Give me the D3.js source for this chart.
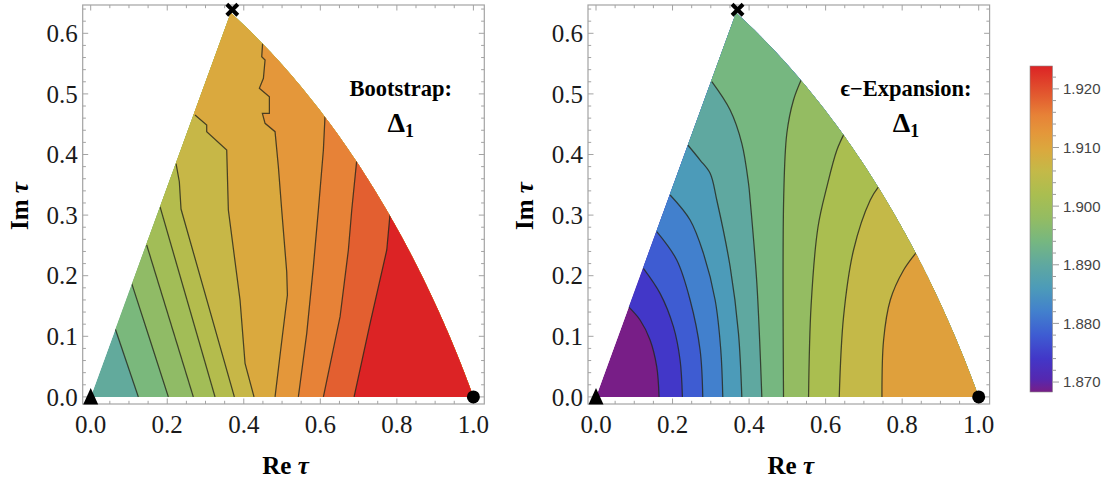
<!DOCTYPE html>
<html><head><meta charset="utf-8">
<script src="https://cdn.jsdelivr.net/npm/d3@7"></script>
<style>body{margin:0;background:#fff}svg{display:block}</style>
</head><body><svg id="c" width="1111" height="486"></svg>
<script>
// ---------- data ----------
const xTickValues = [0, 0.2, 0.4, 0.6, 0.8, 1.0];
const yTickValues = [0, 0.1, 0.2, 0.3, 0.4, 0.5, 0.6];
const colorbarTickValues = [1.870, 1.880, 1.890, 1.900, 1.910, 1.920];
const valueRange = [1.8683, 1.9239];          // colour-bar extent
const bootRange = [1.8905, 1.9239];           // min / max of bootstrap Δ1
const epsRange = [1.8683, 1.911];             // min / max of ε-expansion Δ1
const bootLevels = [1.893, 1.896, 1.899, 1.902, 1.905, 1.908, 1.911, 1.914, 1.917, 1.920];
const epsLevels = [1.872, 1.876, 1.880, 1.884, 1.888, 1.892, 1.896, 1.900, 1.904, 1.908];
// contour lines (Re τ, Im τ), listed from the real axis upward
const bootLines = [
  [[0.1245,0],[0.0645,0.1117]],
  [[0.2029,0],[0.155,0.094],[0.1071,0.1874]],
  [[0.2682,0],[0.1463,0.2507]],
  [[0.3249,0],[0.1811,0.3139]],
  [[0.3754,0],[0.236,0.31],[0.2316,0.3551],[0.2230,0.385]],
  [[0.4268,0],[0.4033,0.0554],[0.3902,0.1599],[0.3597,0.3084],[0.3554,0.4074],[0.3031,0.4377],[0.3031,0.4487],[0.2726,0.4652]],
  [[0.4817,0],[0.4974,0.0828],[0.514,0.1681],[0.5122,0.2066],[0.4991,0.3084],[0.4904,0.3799],[0.4817,0.4377],[0.4556,0.4514],[0.4486,0.4679],[0.4669,0.4679],[0.4669,0.4954],[0.4407,0.5092],[0.4513,0.5257],[0.4556,0.5559],[0.4469,0.5614],[0.4495,0.5862]],
  [[0.5426,0],[0.5645,0.1049],[0.5818,0.2149],[0.5949,0.3084],[0.608,0.4074],[0.6124,0.465],[0.608,0.4734]],
  [[0.608,0],[0.6516,0.1324],[0.6733,0.2424],[0.6821,0.3084],[0.6952,0.3909],[0.6908,0.3992]],
  [[0.6882,0],[0.730,0.1214],[0.7736,0.2424],[0.7823,0.3029]]
];
const epsLines = [
  [[0.1648,0],[0.1587,0.0499],[0.1413,0.0939],[0.1151,0.1269],[0.0846,0.1489]],
  [[0.2258,0],[0.2197,0.0609],[0.2023,0.1159],[0.1674,0.1709],[0.1238,0.2122]],
  [[0.279,0],[0.272,0.0774],[0.2459,0.1599],[0.211,0.2259],[0.1587,0.2727]],
  [[0.3313,0],[0.3261,0.0774],[0.3113,0.1599],[0.2807,0.2369],[0.2459,0.2919],[0.1936,0.3332]],
  [[0.381,0],[0.3723,0.1049],[0.3505,0.2149],[0.3156,0.3249],[0.2982,0.369],[0.272,0.3909],[0.2398,0.4157]],
  [[0.4333,0],[0.4203,0.1874],[0.4028,0.3249],[0.3985,0.3525],[0.381,0.4185],[0.3505,0.4734],[0.3026,0.5202]],
  [[0.49,0],[0.4905,0.33],[0.4987,0.435],[0.5161,0.4899],[0.538,0.5257]],
  [[0.5554,0],[0.562,0.15],[0.580,0.28],[0.6034,0.3469],[0.6295,0.4074],[0.6513,0.4377]],
  [[0.6356,0],[0.6469,0.1324],[0.673,0.2424],[0.7167,0.3249],[0.7385,0.3469]],
  [[0.7472,0],[0.7515,0.0939],[0.769,0.1599],[0.8039,0.2094],[0.8388,0.2397]]
];
const colorStopValues = [1.8683,1.8705,1.874,1.878,1.882,1.886,1.890,1.894,1.898,1.902,1.906,1.9095,1.9125,1.9155,1.9185,1.9239];
const colorStopColors = ['#781e87','#5528b0','#4237c8','#3e5cd2','#4280cd','#4c9bb9','#5fa8a0','#76b780','#94bc62','#aabe50','#c4b948','#daa93e','#e4973a','#e78237','#e35f30','#dc2325'];

// ---------- geometry of the domain ----------
const S3 = Math.sqrt(3);
const apex = [(S3 - 1) / 2, (3 - S3) / 2];
const arcCenter = [-0.5, -S3 / 2], arcR = S3;
function domainPoly() {
  const pts = [[0, 0]];
  for (let i = 0; i <= 80; i++) {
    const a = Math.PI / 6 + (Math.PI / 6) * i / 80;
    pts.push([arcCenter[0] + arcR * Math.cos(a), arcCenter[1] + arcR * Math.sin(a)]);
  }
  return pts;
}

const color = d3.scaleLinear().domain(colorStopValues).range(colorStopColors).interpolate(d3.interpolateRgb);
const svg = d3.select('#c');
const serif = "'Liberation Serif','Times New Roman',serif";

function panel(id, offset, lines, levels, range, curve, title) {
  const xs = d3.scaleLinear().domain([0, 1]).range([90.7 + offset, 473.4 + offset]);
  const ys = d3.scaleLinear().domain([0, 0.6]).range([396.9, 33.3]);
  const frame = {x0: 82.7 + offset, x1: 484.3 + offset, y0: 5, y1: 404};
  const g = svg.append('g');
  const dom = domainPoly();
  const domPath = 'M' + dom.map(p => xs(p[0]) + ',' + ys(p[1])).join('L') + 'Z';
  g.append('clipPath').attr('id', id).append('path').attr('d', domPath);
  const cg = g.append('g').attr('clip-path', `url(#${id})`);
  cg.append('path').attr('d', domPath).attr('fill', color(range[0]));
  const lineGen = d3.line().x(d => xs(d[0])).y(d => ys(d[1])).curve(curve);
  lines.forEach((pts, i) => {
    const start = pts[0], end = pts[pts.length - 1];
    const closure = end[0] < apex[0]
      ? [[end[0] - 1, end[1]], [-1, 2], [3, 2], [3, -1], [start[0], -1]]
      : [[end[0], 2], [3, 2], [3, -1], [start[0], -1]];
    const d = lineGen(pts) + closure.map(p => 'L' + xs(p[0]) + ',' + ys(p[1])).join('') + 'Z';
    const v = i === levels.length - 1 ? range[1] : (levels[i] + levels[i + 1]) / 2;
    cg.append('path').attr('d', d).attr('fill', color(v));
  });
  lines.forEach(pts => {
    cg.append('path').attr('d', lineGen(pts)).attr('fill', 'none')
      .attr('stroke', '#26251c').attr('stroke-opacity', 0.8).attr('stroke-width', 1.25);
  });
  // frame
  const tc = '#a3a3a3';
  g.append('rect').attr('x', frame.x0).attr('y', frame.y0).attr('width', frame.x1 - frame.x0)
    .attr('height', frame.y1 - frame.y0).attr('fill', 'none').attr('stroke', tc).attr('stroke-width', 1.2);
  const xt = d3.range(0, 1.0001, 0.05);
  xt.forEach((v, i) => {
    const major = i % 4 === 0, L = major ? 5.5 : 3.2;
    g.append('line').attr('x1', xs(v)).attr('x2', xs(v)).attr('y1', frame.y1).attr('y2', frame.y1 - L).attr('stroke', tc);
    g.append('line').attr('x1', xs(v)).attr('x2', xs(v)).attr('y1', frame.y0).attr('y2', frame.y0 + L).attr('stroke', tc);
  });
  const yt = d3.range(0, 0.6401, 0.02);
  yt.forEach((v, i) => {
    const major = i % 5 === 0, L = major ? 5.5 : 3.2;
    g.append('line').attr('y1', ys(v)).attr('y2', ys(v)).attr('x1', frame.x0).attr('x2', frame.x0 + L).attr('stroke', tc);
    g.append('line').attr('y1', ys(v)).attr('y2', ys(v)).attr('x1', frame.x1).attr('x2', frame.x1 - L).attr('stroke', tc);
  });
  // tick labels
  g.selectAll('.xl').data(xTickValues).enter().append('text')
    .attr('x', d => xs(d)).attr('y', 433).attr('text-anchor', 'middle')
    .attr('font-family', serif).attr('font-size', 25).attr('fill', '#1a1a1a').text(d => d.toFixed(1));
  g.selectAll('.yl').data(yTickValues).enter().append('text')
    .attr('x', frame.x0 - 5).attr('y', d => ys(d)).attr('dy', '0.35em').attr('text-anchor', 'end')
    .attr('font-family', serif).attr('font-size', 25).attr('fill', '#1a1a1a').text(d => d.toFixed(1));
  // axis titles
  const xt2 = g.append('text').attr('x', (frame.x0 + frame.x1) / 2 + 2).attr('y', 474).attr('text-anchor', 'middle')
    .attr('font-family', serif).attr('font-size', 25).attr('font-weight', 'bold');
  xt2.append('tspan').text('Re ');
  xt2.append('tspan').attr('font-style', 'italic').text('τ');
  const yt2 = g.append('text').attr('transform', `translate(${28 + offset},206) rotate(-90)`).attr('text-anchor', 'middle')
    .attr('font-family', serif).attr('font-size', 25).attr('font-weight', 'bold');
  yt2.append('tspan').text('Im ');
  yt2.append('tspan').attr('font-style', 'italic').text('τ');
  // annotation
  g.append('text').attr('x', xs(0.81)).attr('y', ys(0.497)).attr('text-anchor', 'middle')
    .attr('font-family', serif).attr('font-size', 22.5).attr('font-weight', 'bold').text(title);
  const dl = g.append('text').attr('x', xs(0.81)).attr('y', ys(0.437)).attr('text-anchor', 'middle')
    .attr('font-family', serif).attr('font-size', 28).attr('font-weight', 'bold');
  dl.append('tspan').text('Δ');
  dl.append('tspan').attr('font-size', 18).attr('dy', 5).text('1');
  // markers
  const [tx, ty] = [xs(0), ys(0)];
  g.append('path').attr('d', `M${tx},${ty - 9}L${tx + 7.5},${ty + 7.5}L${tx - 7.5},${ty + 7.5}Z`).attr('fill', '#000');
  g.append('circle').attr('cx', xs(1)).attr('cy', ys(0)).attr('r', 6.5).attr('fill', '#000');
  const [ax, ay] = [xs(apex[0]) + 1.5, ys(apex[1]) - 3];
  g.append('path').attr('d', `M${ax - 5.5},${ay - 5.5}L${ax + 5.5},${ay + 5.5}M${ax + 5.5},${ay - 5.5}L${ax - 5.5},${ay + 5.5}`)
    .attr('stroke', '#000').attr('stroke-width', 4);
}

panel('clipA', 0, bootLines, bootLevels, bootRange, d3.curveLinear, 'Bootstrap:');
panel('clipB', 505.3, epsLines, epsLevels, epsRange, d3.curveCatmullRom.alpha(0.5), 'ϵ−Expansion:');

// ---------- colour bar ----------
const cbY = d3.scaleLinear().domain(valueRange).range([392, 66]);
const defs = svg.append('defs');
const grad = defs.append('linearGradient').attr('id', 'cbg').attr('x1', 0).attr('x2', 0).attr('y1', 1).attr('y2', 0);
colorStopValues.forEach((v, i) => {
  grad.append('stop').attr('offset', (v - valueRange[0]) / (valueRange[1] - valueRange[0])).attr('stop-color', colorStopColors[i]);
});
svg.append('rect').attr('x', 1030).attr('y', cbY(valueRange[1])).attr('width', 22.5)
  .attr('height', cbY(valueRange[0]) - cbY(valueRange[1])).attr('fill', 'url(#cbg)')
  .attr('stroke', '#8a8a8a').attr('stroke-width', 0.6);
d3.range(1.870, 1.9231, 0.002).forEach(v => {
  const major = Math.abs(Math.round(v * 100) - v * 100) < 1e-6;
  svg.append('line').attr('x1', 1052.5).attr('x2', 1052.5 + (major ? 6.5 : 3.5))
    .attr('y1', cbY(v)).attr('y2', cbY(v)).attr('stroke', '#9a9a9a');
});
svg.selectAll('.cbl').data(colorbarTickValues).enter().append('text')
  .attr('x', 1063).attr('y', d => cbY(d)).attr('dy', '0.36em')
  .attr('font-family', "'Liberation Sans',Arial,sans-serif").attr('font-size', 15).attr('fill', '#444')
  .text(d => d.toFixed(3));
</script></body></html>
